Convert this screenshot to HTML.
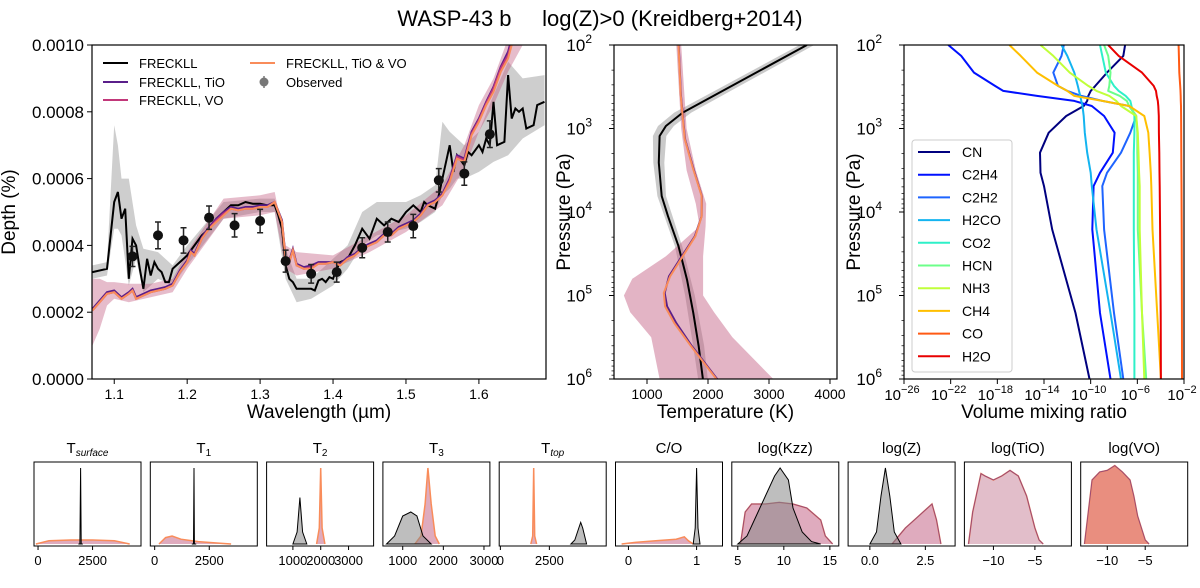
<!DOCTYPE html>
<html><head><meta charset="utf-8"><style>
html,body{margin:0;padding:0;background:#fff;}
svg{display:block;font-family:"Liberation Sans","DejaVu Sans",sans-serif;}
</style></head><body>
<svg id="chart" width="1200" height="588" viewBox="0 0 1200 588">
<text x="600" y="26" text-anchor="middle" font-size="22">WASP-43 b &#160;&#160;&#160;&#160;log(Z)&gt;0 (Kreidberg+2014)</text>
</svg>
<script>
// ---------- spectrum data ----------
const blackX=[1.07,1.09,1.10,1.105,1.11,1.115,1.12,1.125,1.13,1.135,1.14,1.145,1.15,1.155,1.16,1.165,1.17,1.175,1.18,1.19,1.20,1.21,1.22,1.23,1.24,1.25,1.26,1.27,1.28,1.29,1.30,1.31,1.32,1.325,1.33,1.335,1.34,1.345,1.35,1.36,1.37,1.375,1.38,1.385,1.39,1.395,1.40,1.405,1.41,1.42,1.43,1.44,1.45,1.46,1.47,1.48,1.49,1.50,1.51,1.52,1.525,1.53,1.54,1.545,1.55,1.56,1.565,1.57,1.58,1.585,1.59,1.60,1.605,1.61,1.615,1.62,1.625,1.635,1.64,1.645,1.65,1.655,1.66,1.665,1.675,1.68,1.69];
const blackY=[3.2,3.3,5.3,5.6,4.8,5.1,3.0,4.2,4.0,3.3,2.7,3.6,3.1,3.5,3.3,3.2,2.9,2.9,3.3,3.5,3.7,4.0,4.3,4.5,4.8,5.0,5.2,5.2,5.3,5.25,5.25,5.2,5.2,4.9,4.5,3.4,3.0,2.9,2.7,2.7,2.7,2.65,2.95,3.0,2.9,3.05,3.0,3.3,3.5,3.6,4.0,4.5,4.2,4.8,4.6,4.8,4.7,5.0,5.2,5.0,5.3,5.2,5.1,5.5,6.0,7.0,6.2,6.7,6.4,6.8,6.7,7.0,6.8,7.2,7.0,8.3,7.0,7.1,9.1,7.8,8.1,8.0,8.1,7.5,7.6,8.2,8.3];
const grayBandX=[1.07,1.09,1.10,1.105,1.11,1.12,1.13,1.14,1.16,1.18,1.20,1.25,1.30,1.32,1.335,1.35,1.37,1.40,1.42,1.44,1.46,1.48,1.50,1.52,1.54,1.55,1.56,1.57,1.58,1.60,1.62,1.64,1.66,1.69];
const grayHi=[3.4,3.5,7.6,7.0,6.0,6.0,4.6,3.9,3.8,3.4,4.0,5.3,5.4,5.4,3.9,3.0,3.0,3.6,4.0,5.0,5.3,5.3,5.3,5.5,5.8,7.7,7.4,7.2,7.0,7.4,8.5,9.5,9.0,9.1];
const grayLo=[3.0,3.1,4.5,4.5,4.3,2.8,3.6,2.6,3.0,2.8,3.4,4.8,5.0,5.0,3.0,2.3,2.4,2.8,3.3,4.0,4.3,4.4,4.5,4.7,5.0,5.5,5.7,6.0,6.0,6.2,6.5,6.7,7.2,7.6];
const modelX=[1.07,1.08,1.09,1.10,1.11,1.12,1.125,1.13,1.14,1.15,1.16,1.17,1.18,1.19,1.20,1.205,1.21,1.22,1.23,1.24,1.25,1.26,1.27,1.28,1.29,1.30,1.31,1.32,1.33,1.335,1.34,1.345,1.35,1.36,1.37,1.38,1.39,1.40,1.41,1.42,1.43,1.44,1.45,1.46,1.47,1.48,1.49,1.50,1.51,1.52,1.53,1.54,1.55,1.56,1.57,1.58,1.59,1.60,1.61,1.62,1.63,1.64,1.645,1.66];
const tioY=[2.1,2.35,2.6,2.65,2.45,2.6,2.7,2.45,2.55,2.65,2.7,2.75,2.85,3.25,3.55,3.85,3.75,4.25,4.55,4.8,5.0,5.15,5.1,5.15,5.15,5.2,5.2,5.3,4.75,3.65,3.55,3.9,3.45,3.35,3.4,3.5,3.5,3.5,3.45,3.65,3.75,3.95,4.05,4.15,4.35,4.35,4.55,4.65,4.75,4.95,5.25,5.35,5.55,6.0,6.7,6.6,7.4,7.8,8.3,8.75,9.35,9.8,10.2,10.6];
const voY=[2.05,2.3,2.55,2.6,2.4,2.55,2.65,2.4,2.5,2.6,2.65,2.7,2.8,3.2,3.5,3.8,3.7,4.2,4.5,4.75,4.95,5.1,5.05,5.1,5.1,5.15,5.15,5.3,4.7,3.6,3.5,3.85,3.4,3.3,3.35,3.45,3.45,3.5,3.4,3.6,3.7,3.9,4.0,4.1,4.3,4.3,4.5,4.6,4.7,4.9,5.2,5.3,5.5,5.95,6.65,6.55,7.35,7.75,8.25,8.7,9.3,9.7,10.1,10.5];
const bothY=[2.05,2.3,2.55,2.6,2.4,2.55,2.65,2.4,2.5,2.6,2.65,2.7,2.8,3.2,3.5,3.8,3.7,4.2,4.5,4.7,4.9,5.1,5.05,5.1,5.1,5.15,5.15,5.3,4.7,3.6,3.5,3.85,3.4,3.3,3.3,3.45,3.45,3.5,3.4,3.6,3.7,3.9,4.0,4.1,4.3,4.3,4.5,4.6,4.7,4.9,5.2,5.3,5.5,5.9,6.6,6.5,7.3,7.7,8.2,8.6,9.2,9.6,10.0,10.5];
const pinkX=[1.07,1.08,1.09,1.10,1.12,1.15,1.18,1.20,1.25,1.30,1.32,1.335,1.35,1.40,1.45,1.50,1.55,1.58,1.60,1.62,1.64,1.66];
const pinkHi=[3.0,3.0,2.9,2.9,2.85,2.85,3.0,3.8,5.4,5.5,5.6,4.0,3.8,3.7,4.3,4.9,5.8,7.0,8.2,9.0,10.2,10.8];
const pinkLo=[1.0,1.5,2.2,2.4,2.3,2.45,2.6,3.3,4.8,4.9,5.0,3.3,3.1,3.3,3.8,4.4,5.2,6.3,7.4,8.2,9.2,10.0];
const obsX=[1.125,1.16,1.195,1.23,1.265,1.30,1.335,1.37,1.405,1.44,1.475,1.51,1.545,1.58,1.615];
const obsY=[3.67,4.3,4.15,4.83,4.6,4.73,3.53,3.15,3.2,3.93,4.4,4.58,5.95,6.15,7.33];
const obsErr=[0.3,0.4,0.38,0.35,0.35,0.35,0.33,0.28,0.3,0.3,0.3,0.35,0.35,0.35,0.4];
const depthTicks=[0,2,4,6,8,10];
const depthTickLabels=["0.0000","0.0002","0.0004","0.0006","0.0008","0.0010"];
const waveTicks=[1.1,1.2,1.3,1.4,1.5,1.6];

// ---------- T-P data ----------
const tpBlackP=[2.0,2.81,2.97,3.09,3.41,3.81,4.05,4.41,4.81,5.21,5.61,6.0];
const tpBlackT=[3621,1586,1310,1207,1193,1241,1345,1517,1655,1759,1848,1917];
const tpOrangeP=[2.0,2.6,3.13,3.49,3.81,4.05,4.29,4.53,4.77,4.97,5.13,5.33,5.61,6.0];
const tpOrangeT=[1517,1552,1620,1759,1897,1897,1793,1586,1379,1276,1297,1448,1724,2138];
const tpPurpleT=[1520,1555,1625,1765,1900,1895,1785,1570,1360,1290,1330,1480,1740,2150];
const tpBandP=[2.0,3.0,3.5,3.9,4.17,4.53,4.8,5.0,5.2,5.5,6.0];
const tpBandLeft=[1480,1560,1650,1800,1862,1310,759,621,724,1069,1207];
const tpBandRight=[1560,1650,1800,1970,1960,1920,1920,1920,2100,2400,3070];
const tpGrayP=[2.0,2.5,2.81,2.97,3.09,3.41,3.81,4.41,5.0,5.6,6.0];
const tpGrayW=[120,130,140,130,110,90,70,60,80,90,80];

// ---------- mixing ratio data ----------
const vmrP=[2.0,2.13,2.33,2.49,2.55,2.61,2.67,2.73,2.85,3.05,3.29,3.53,3.69,4.21,5.21,6.0];
const speciesNames=["CN","C2H4","C2H2","H2CO","CO2","HCN","NH3","CH4","CO","H2O"];
const speciesColors=["#00007f","#0010ff","#1e64ff","#14b4f0","#2ef0c8","#6cff8a","#c0ff3a","#ffbf00","#ff5a14","#e80000"];
const vmrCN=[-7.05,-7.2,-8.6,-9.6,-10.0,-10.2,-10.3,-10.6,-12.1,-13.6,-14.34,-14.3,-14.0,-13.3,-11.3,-10.1];
const vmrC2H4=[-22.2,-21.1,-20.0,-18.2,-17.5,-14.6,-11.4,-9.9,-8.85,-7.95,-8.1,-9.2,-9.75,-9.86,-9.2,-8.3];
const vmrC2H2=[-12.3,-12.5,-13.2,-12.8,-12.0,-10.8,-9.0,-6.7,-6.1,-6.6,-7.4,-8.6,-9.0,-8.85,-8.0,-7.2];
const vmrH2CO=[-12.5,-12.0,-11.4,-11.1,-11.0,-10.9,-10.8,-10.7,-10.6,-10.5,-10.3,-10.0,-9.9,-9.5,-8.3,-7.4];
const vmrCO2=[-9.2,-9.0,-8.7,-8.0,-7.6,-7.0,-6.6,-6.5,-6.25,-6.25,-6.3,-6.3,-6.3,-6.3,-6.25,-6.25];
const vmrHCN=[-8.85,-8.5,-8.3,-8.4,-8.5,-7.5,-6.9,-6.7,-6.1,-6.0,-6.0,-5.96,-5.96,-5.96,-5.6,-5.24];
const vmrNH3=[-14.3,-13.2,-11.8,-10.2,-9.5,-8.4,-7.8,-7.4,-6.1,-5.96,-5.9,-5.85,-5.8,-5.8,-5.6,-5.4];
const vmrCH4=[-16.97,-16.0,-14.6,-12.8,-12.0,-11.4,-9.0,-6.7,-5.4,-5.06,-4.95,-4.85,-4.8,-4.7,-4.3,-3.98];
const vmrCO=[-2.46,-2.44,-2.4,-2.33,-2.3,-2.28,-2.27,-2.26,-2.25,-2.24,-2.23,-2.22,-2.21,-2.2,-2.18,-2.17];
const vmrH2O=[-8.5,-7.6,-5.6,-4.6,-4.4,-4.34,-4.25,-4.2,-4.16,-4.15,-4.12,-4.1,-4.08,-4.05,-4.0,-3.98];
const vmrTicks=[-26,-22,-18,-14,-10,-6,-2];
const tempTicks=[1000,2000,3000,4000];
const pressTicks=[2,3,4,5,6];

// ---------- posterior data ----------
const postTitles=["T<tspan font-size='10' font-style='italic' dy='3'>surface</tspan>","T<tspan font-size='10' dy='3'>1</tspan>","T<tspan font-size='10' dy='3'>2</tspan>","T<tspan font-size='10' dy='3'>3</tspan>","T<tspan font-size='10' font-style='italic' dy='3'>top</tspan>","C/O","log(Kzz)","log(Z)","log(TiO)","log(VO)"];
const postMin=[-185,-200,55,512,-60,-0.19,4.35,-0.98,-13.5,-13.5];
const postMax=[4720,4700,3900,3146,5400,1.38,15.97,3.84,-0.6,0.6];
const postTicks=[[0,2500],[0,2500],[1000,2000,3000],[1000,2000,3000],[0,2500],[0,1],[5,10,15],[0,2.5],[-10,-5],[-10,-5]];
const postTickLabels=[["0","2500"],["0","2500"],["1000","2000","3000"],["1000","2000","3000"],["0","2500"],["0","1"],["5","10","15"],["0.0","2.5"],["\u221210","\u22125"],["\u221210","\u22125"]];
const p1BlackX=[1850,1920,1950,1980,2050], p1BlackY=[0,0,0.95,0,0];
const p1OrangeX=[-100,500,1500,2500,3500,4200], p1OrangeY=[0,0.04,0.05,0.05,0.04,0];
const p2BlackX=[1700,1780,1800,1820,1900], p2BlackY=[0,0,0.95,0,0];
const p2OrangeX=[200,500,800,1200,2000,3000,3500], p2OrangeY=[0,0.08,0.1,0.06,0.03,0.01,0];
const p3BlackX=[1000,1150,1250,1350,1500], p3BlackY=[0,0.15,0.58,0.15,0];
const p3OrangeX=[1850,1950,2000,2050,2150], p3OrangeY=[0,0.2,0.95,0.2,0];
const p4BlackX=[600,800,1000,1200,1350,1500,1700], p4BlackY=[0,0.1,0.35,0.4,0.35,0.1,0];
const p4OrangeX=[1300,1450,1550,1620,1700,1800,1900], p4OrangeY=[0,0.1,0.5,0.95,0.5,0.1,0];
const p5BlackX=[3600,3800,4000,4100,4200,4400], p5BlackY=[0,0.05,0.2,0.27,0.2,0];
const p5OrangeX=[1550,1650,1700,1750,1850], p5OrangeY=[0,0.1,0.95,0.1,0];
const p6BlackX=[0.95,0.98,1.0,1.02,1.05], p6BlackY=[0,0.2,0.95,0.2,0];
const p6OrangeX=[-0.1,0.1,0.4,0.7,0.82,0.88,0.95], p6OrangeY=[0,0.02,0.04,0.06,0.09,0.04,0];
const p7BlackX=[5,6,7,8,9,9.6,10.5,11,12,13,14], p7BlackY=[0,0.1,0.35,0.6,0.85,0.95,0.8,0.45,0.15,0.03,0];
const p7OrangeX=[5.3,5.8,6.5,8,9.5,11,12.5,14,14.5,15.3], p7OrangeY=[0,0.4,0.5,0.5,0.52,0.5,0.45,0.3,0.1,0];
const p8BlackX=[0,0.3,0.5,0.7,0.9,1.1,1.4], p8BlackY=[0,0.15,0.6,0.95,0.6,0.15,0];
const p8OrangeX=[1.0,1.3,1.6,2.0,2.4,2.8,3.0,3.2], p8OrangeY=[0,0.1,0.2,0.3,0.4,0.5,0.3,0];
const p9OrangeX=[-13,-12.5,-11.5,-11,-10,-9,-8,-7,-6,-5,-4.5,-4], p9OrangeY=[0,0.4,0.88,0.85,0.8,0.85,0.92,0.85,0.6,0.2,0.05,0];
const p10OrangeX=[-13,-12.5,-12,-11,-10,-9,-8,-7,-6.5,-6,-5,-4.5], p10OrangeY=[0,0.4,0.8,0.9,0.92,0.98,0.9,0.8,0.6,0.35,0.05,0];

const NS='http://www.w3.org/2000/svg';
const svg=document.getElementById('chart');
function mk(tag,attrs,parent){const e=document.createElementNS(NS,tag);for(const k in attrs)e.setAttribute(k,attrs[k]);(parent||svg).appendChild(e);return e;}
function pts(xs,ys,fx,fy){let s=[];const n=Math.min(xs.length,ys.length);for(let i=0;i<n;i++)s.push(fx(xs[i]).toFixed(1)+','+fy(ys[i]).toFixed(1));return s;}
function bandPath(xs,lo,hi,fx,fy){const a=pts(xs,hi,fx,fy);const b=pts(xs,lo,fx,fy).reverse();return 'M'+a.join('L')+'L'+b.join('L')+'Z';}

// ===== Panel 1: spectrum =====
const L1=92,R1=546,T1=45,B1=379;
const sx=v=>L1+(v-1.0695)/(1.692-1.0695)*(R1-L1);
const sy=v=>B1-v/10*(B1-T1);
const defs=mk('defs',{});
const cp1=mk('clipPath',{id:'c1'},defs);mk('rect',{x:L1,y:T1,width:R1-L1,height:B1-T1},cp1);
const cp2=mk('clipPath',{id:'c2'},defs);mk('rect',{x:614,y:45,width:223,height:334},cp2);
const cp3=mk('clipPath',{id:'c3'},defs);mk('rect',{x:904,y:45,width:280,height:334},cp3);
const g1=mk('g',{'clip-path':'url(#c1)'});


let e;
e=mk('path',{d:bandPath(grayBandX,grayLo,grayHi,sx,sy),fill:'#bdbdbd','fill-opacity':0.75},g1);


e=mk('path',{d:bandPath(pinkX,pinkLo,pinkHi,sx,sy),fill:'#c0587e','fill-opacity':0.4},g1);


e=mk('polyline',{points:pts(blackX,blackY,sx,sy).join(' '),fill:'none',stroke:'#000','stroke-width':2},g1);


e=mk('polyline',{points:pts(modelX,tioY,sx,sy).join(' '),fill:'none',stroke:'#5a1f8a','stroke-width':2},g1);


e=mk('polyline',{points:pts(modelX,voY,sx,sy).join(' '),fill:'none',stroke:'#c2387a','stroke-width':2},g1);


e=mk('polyline',{points:pts(modelX,bothY,sx,sy).join(' '),fill:'none',stroke:'#f98c5a','stroke-width':2},g1);


for(let i=0;i<obsX.length;i++){
  const x=sx(obsX[i]);
  const eb=mk('path',{d:`M${x},${sy(obsY[i]-obsErr[i])}V${sy(obsY[i]+obsErr[i])}M${x-3},${sy(obsY[i]-obsErr[i])}h6M${x-3},${sy(obsY[i]+obsErr[i])}h6`,stroke:'#222','stroke-width':1.5,fill:'none'},g1);
  
  
  const c=mk('circle',{cx:x,cy:sy(obsY[i]),r:5,fill:'#111'},g1);
  
  
}
e=mk('rect',{x:L1,y:T1,width:R1-L1,height:B1-T1,fill:'none',stroke:'#000','stroke-width':1.2});


depthTicks.forEach((v,i)=>{
  const y=sy(v);
  mk('line',{x1:L1-5,x2:L1,y1:y,y2:y,stroke:'#000'});
  const t=mk('text',{x:L1-8,y:y+6,'text-anchor':'end','font-size':17});t.textContent=depthTickLabels[i];
  
  
});
waveTicks.forEach(v=>{
  const x=sx(v);
  mk('line',{x1:x,x2:x,y1:B1,y2:B1+5,stroke:'#000'});
  const t=mk('text',{x:x,y:B1+20,'text-anchor':'middle','font-size':14});t.textContent=v.toFixed(1);
  
  
});
e=mk('text',{x:(L1+R1)/2,y:418,'text-anchor':'middle','font-size':19});e.textContent='Wavelength (\u00b5m)';


e=mk('text',{x:0,y:0,'text-anchor':'middle','font-size':19,transform:`translate(15,${(T1+B1)/2}) rotate(-90)`});e.textContent='Depth (%)';


// legend
const legItems=[[103,63,'#000','FRECKLL'],[103,82,'#5a1f8a','FRECKLL, TiO'],[103,100,'#c2387a','FRECKLL, VO'],[250,63,'#f98c5a','FRECKLL, TiO & VO']];
legItems.forEach(it=>{
  const g=mk('g',{});
  
  
  mk('line',{x1:it[0],x2:it[0]+25,y1:it[1],y2:it[1],stroke:it[2],'stroke-width':2},g);
  const t=mk('text',{x:it[0]+36,y:it[1]+5,'font-size':13},g);t.textContent=it[3];
});
{const g=mk('g',{});


mk('line',{x1:264,x2:264,y1:76,y2:88,stroke:'#777','stroke-width':1.5},g);
mk('circle',{cx:264,cy:82,r:4.5,fill:'#777'},g);
const t=mk('text',{x:286,y:87,'font-size':13},g);t.textContent='Observed';}

// ===== Panel 2: T-P profile =====
const L2=614,R2=837;
const tx=v=>L2+(v-459)/(4115-459)*(R2-L2);
const py=v=>45+(v-2)*83.5;
const g2=mk('g',{'clip-path':'url(#c2)'});


{const lo=[],hi=[];for(let i=0;i<tpGrayP.length;i++){}
 // gray band around black profile: interpolate black T at band pressures
 const interp=(p)=>{for(let i=1;i<tpBlackP.length;i++){if(p<=tpBlackP[i]){const f=(p-tpBlackP[i-1])/(tpBlackP[i]-tpBlackP[i-1]);return tpBlackT[i-1]+f*(tpBlackT[i]-tpBlackT[i-1]);}}return tpBlackT[tpBlackT.length-1];};
 const left=tpGrayP.map((p,i)=>interp(p)-tpGrayW[i]),right=tpGrayP.map((p,i)=>interp(p)+tpGrayW[i]);
 const a=tpGrayP.map((p,i)=>tx(left[i]).toFixed(1)+','+py(p).toFixed(1));
 const b=tpGrayP.map((p,i)=>tx(right[i]).toFixed(1)+','+py(p).toFixed(1)).reverse();
 e=mk('path',{d:'M'+a.join('L')+'L'+b.join('L')+'Z',fill:'#bdbdbd','fill-opacity':0.8},g2);
 
 }
{const a=tpBandP.map((p,i)=>tx(tpBandLeft[i]).toFixed(1)+','+py(p).toFixed(1));
 const b=tpBandP.map((p,i)=>tx(tpBandRight[i]).toFixed(1)+','+py(p).toFixed(1)).reverse();
 e=mk('path',{d:'M'+a.join('L')+'L'+b.join('L')+'Z',fill:'#c0587e','fill-opacity':0.45},g2);
 
 }
e=mk('polyline',{points:pts(tpBlackT,tpBlackP,tx,py).join(' '),fill:'none',stroke:'#000','stroke-width':2,'stroke-linejoin':'round'},g2);


e=mk('polyline',{points:pts(tpPurpleT,tpOrangeP,tx,py).join(' '),fill:'none',stroke:'#5a1f8a','stroke-width':2},g2);


e=mk('polyline',{points:pts(tpOrangeT,tpOrangeP,tx,py).join(' '),fill:'none',stroke:'#f98c5a','stroke-width':2},g2);


e=mk('rect',{x:L2,y:45,width:R2-L2,height:334,fill:'none',stroke:'#000','stroke-width':1.2});


function logTicks(L,gname){
  pressTicks.forEach(p=>{
    const y=py(p);
    mk('line',{x1:L-5,x2:L,y1:y,y2:y,stroke:'#000'});
    const t=mk('text',{x:L-22,y:y+6,'text-anchor':'end','font-size':17});
    t.innerHTML='10<tspan font-size="12" dy="-8">'+p+'</tspan>';
    
    
    if(p<6)for(let m=2;m<10;m++){const yy=py(p+Math.log10(m));mk('line',{x1:L-2.5,x2:L,y1:yy,y2:yy,stroke:'#000','stroke-width':0.7});}
  });
}
logTicks(L2,'pressure-tick-label');
tempTicks.forEach(v=>{
  const x=tx(v);
  mk('line',{x1:x,x2:x,y1:379,y2:384,stroke:'#000'});
  const t=mk('text',{x:x,y:399,'text-anchor':'middle','font-size':14});t.textContent=v;
  
  
});
e=mk('text',{x:(L2+R2)/2,y:418,'text-anchor':'middle','font-size':19});e.textContent='Temperature (K)';


e=mk('text',{x:0,y:0,'text-anchor':'middle','font-size':19,transform:`translate(570,212) rotate(-90)`});e.textContent='Pressure (Pa)';



// ===== Panel 3: mixing ratios =====
const L3=904,R3=1184;
const vx=v=>L3+(v+26)/24*(R3-L3);
const g3=mk('g',{'clip-path':'url(#c3)'});


const vmrSeries=[vmrCN,vmrC2H4,vmrC2H2,vmrH2CO,vmrCO2,vmrHCN,vmrNH3,vmrCH4,vmrCO,vmrH2O];
vmrSeries.forEach((s,i)=>{
  const l=mk('polyline',{points:pts(s,vmrP,vx,py).join(' '),fill:'none',stroke:speciesColors[i],'stroke-width':2,'stroke-linejoin':'round'},g3);
  
  
});
e=mk('rect',{x:L3,y:45,width:R3-L3,height:334,fill:'none',stroke:'#000','stroke-width':1.2});


logTicks(L3,'vmr-pressure-tick-label');
vmrTicks.forEach(v=>{
  const x=vx(v);
  mk('line',{x1:x,x2:x,y1:379,y2:384,stroke:'#000'});
  const t=mk('text',{x:x-2,y:400,'text-anchor':'middle','font-size':15});
  t.innerHTML='10<tspan font-size="11" dy="-7">\u2212'+Math.abs(v)+'</tspan>';
  
  
});
e=mk('text',{x:(L3+R3)/2,y:418,'text-anchor':'middle','font-size':19});e.textContent='Volume mixing ratio';


e=mk('text',{x:0,y:0,'text-anchor':'middle','font-size':19,transform:`translate(860,212) rotate(-90)`});e.textContent='Pressure (Pa)';


e=mk('rect',{x:912,y:140,width:100,height:232,rx:3,fill:'#fff','fill-opacity':0.85,stroke:'#ccc'});


speciesNames.forEach((n,i)=>{
  const y=152+i*22.7;
  const g=mk('g',{});
  
  
  mk('line',{x1:918,x2:950,y1:y,y2:y,stroke:speciesColors[i],'stroke-width':2},g);
  const t=mk('text',{x:962,y:y+5,'font-size':14},g);t.textContent=n;
});

// ===== Bottom posterior panels =====
const postBlack=[[p1BlackX,p1BlackY],[p2BlackX,p2BlackY],[p3BlackX,p3BlackY],[p4BlackX,p4BlackY],[p5BlackX,p5BlackY],[p6BlackX,p6BlackY],[p7BlackX,p7BlackY],[p8BlackX,p8BlackY],null,null];
const postOrange=[[p1OrangeX,p1OrangeY],[p2OrangeX,p2OrangeY],[p3OrangeX,p3OrangeY],[p4OrangeX,p4OrangeY],[p5OrangeX,p5OrangeY],[p6OrangeX,p6OrangeY],[p7OrangeX,p7OrangeY],[p8OrangeX,p8OrangeY],[p9OrangeX,p9OrangeY],[p10OrangeX,p10OrangeY]];
for(let i=0;i<10;i++){
  const L=34+i*116.3,W=107,T=462,H=84,B=T+H;
  const fx=v=>L+(v-postMin[i])/(postMax[i]-postMin[i])*W;
  const fy=v=>B-2-v*(H-4);
  const g=mk('g',{});
  
  
  const o=postOrange[i];
  if(o){
    const fill=i===8?'#d8a8b8':(i===9?'#e88878':'#c0587e');
    const op=i===8?0.75:(i===9?0.95:0.5);
    const p=pts(o[0],o[1],fx,fy);
    const a=mk('path',{d:'M'+p.join('L')+'Z',fill:fill,'fill-opacity':op},g);
    
    
    const l=mk('polyline',{points:p.join(' '),fill:'none',stroke:'#f98c5a','stroke-width':1.5},g);
    
    
    if(i>=6){const l2=mk('polyline',{points:pts(o[0],o[1].map(v=>v),fx,fy).join(' '),fill:'none',stroke:'#5a1f8a','stroke-width':1,'stroke-opacity':0.6},g);
    
    }
  }
  const b=postBlack[i];
  if(b){
    const p=pts(b[0],b[1],fx,fy);
    const a=mk('path',{d:'M'+p.join('L')+'Z',fill:'#888','fill-opacity':0.55,stroke:'#000','stroke-width':1},g);
    
    
  }
  const r=mk('rect',{x:L,y:T,width:W,height:H,fill:'none',stroke:'#000','stroke-width':1},g);
  
  
  const tt=mk('text',{x:L+W/2,y:T-9,'text-anchor':'middle','font-size':15},g);tt.innerHTML=postTitles[i];
  
  
  postTicks[i].forEach((v,k)=>{
    const x=fx(v);
    mk('line',{x1:x,x2:x,y1:B,y2:B+4,stroke:'#000'},g);
    const t=mk('text',{x:x,y:B+19,'text-anchor':'middle','font-size':13},g);t.textContent=postTickLabels[i][k];
    
    
  });
}
</script>
</body></html>
